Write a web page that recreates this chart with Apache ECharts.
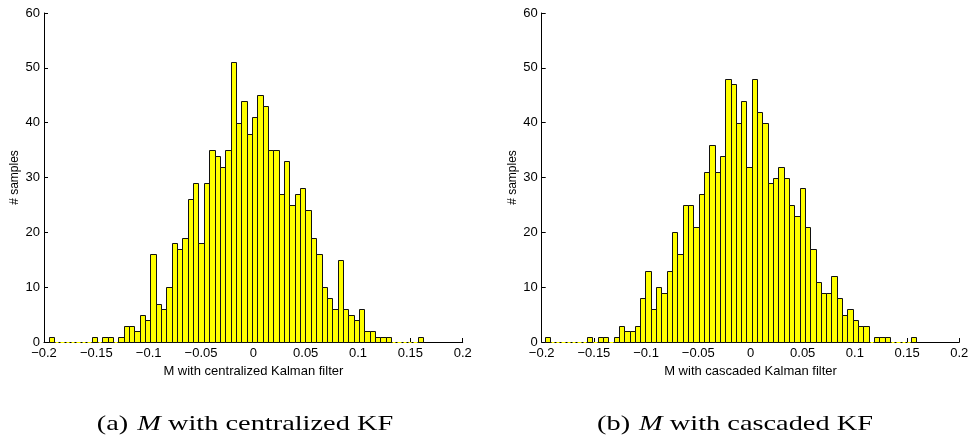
<!DOCTYPE html>
<html>
<head>
<meta charset="utf-8">
<style>
  html, body { margin: 0; padding: 0; background: #fff; }
  #chart { width: 972px; height: 439px; }
</style>
<script src="https://cdn.jsdelivr.net/npm/echarts@6/dist/echarts.min.js"></script>
</head>
<body>
<div id="chart"></div>
<script>
// Histogram counts per bin (70 equal-width bins each)
const centralizedCounts = [1,0,0,0,0,0,0,0, 1,0,1,1,0,1, 3,3,2,5,4, 16,7,6,10, 18,17,19,26,29,
  18,29,35,34,32, 35,51,40,44,38, 41,45,43,35,35, 27,33,25,27,28, 24,19,16,10,8,
  6,15,6,5,4, 6,2,2,1,1,1, 0,0,0,0,0, 1];
const cascadedCounts = [1,0,0,0,0,0,0,0, 1,0,1,1,0,1, 3,2,2,3,8, 13,6,10,9,13,
  20,16,25,25,21, 27,31,36,31,34, 48,47,40,44,32, 48,42,40,29,30, 32,30,25,23,28,
  21,17,11,9,9, 12,8,5,6,4, 3,3,0,1,1, 1,0,0,0,0, 1];

// Bin layout: lower edge of the first bin and bin width
const centralizedBins = { start: -0.1955, width: 0.00511 };
const cascadedBins = { start: -0.1973, width: 0.00509 };

const xTickLabels = ['\u22120.2', '\u22120.15', '\u22120.1', '\u22120.05', '0', '0.05', '0.1', '0.15', '0.2'];
const yTickLabels = ['0', '10', '20', '30', '40', '50', '60'];

const xNames = ['M with centralized Kalman filter', 'M with cascaded Kalman filter'];
const yName = '# samples';
const captions = [
  { tag: '(a)', rest: ' with centralized KF' },
  { tag: '(b)', rest: ' with cascaded KF' }
];

function toBins(counts, bins) {
  return counts.map((c, i) => [bins.start + i * bins.width, bins.start + (i + 1) * bins.width, c]);
}

function renderBar(params, api) {
  const lo = api.value(0), hi = api.value(1), c = api.value(2);
  const pTop = api.coord([lo, c]);
  const pBase = api.coord([hi, 0]);
  const x0 = Math.round(pTop[0]) + 0.5;
  const x1 = Math.round(pBase[0]) + 0.5;
  const yb = Math.round(pBase[1]) + 0.5;
  if (c === 0) {
    return {
      type: 'line',
      shape: { x1: x0 + 1, y1: yb, x2: x1 - 1, y2: yb },
      style: { stroke: '#ffff00', lineWidth: 1 }
    };
  }
  const yt = Math.round(pTop[1]) + 0.5;
  return {
    type: 'rect',
    shape: { x: x0, y: yt, width: x1 - x0, height: yb - yt },
    style: { fill: '#ffff00', stroke: '#111', lineWidth: 1 }
  };
}

const font = 'Liberation Sans, Arial, sans-serif';

function xAxisFor(gridIndex, name) {
  return {
    type: 'value', gridIndex, min: -0.2, max: 0.2, interval: 0.05,
    name, nameLocation: 'middle', nameGap: 20,
    nameTextStyle: { fontFamily: font, fontSize: 13, color: '#000' },
    axisLine: { show: true, onZero: false, lineStyle: { color: '#000', width: 1 } },
    axisTick: { show: true, inside: true, length: 4, lineStyle: { color: '#000' } },
    axisLabel: {
      fontFamily: font, fontSize: 13, color: '#000', margin: 5,
      showMinLabel: true, showMaxLabel: true, hideOverlap: false,
      formatter: (v, i) => xTickLabels[i]
    },
    splitLine: { show: false }
  };
}

function yAxisFor(gridIndex) {
  return {
    type: 'value', gridIndex, min: 0, max: 60, interval: 10,
    name: yName, nameLocation: 'middle', nameGap: 23, nameRotate: 90,
    nameTextStyle: { fontFamily: font, fontSize: 12, color: '#000' },
    axisLine: { show: true, onZero: false, lineStyle: { color: '#000', width: 1 } },
    axisTick: { show: true, inside: true, length: 4, lineStyle: { color: '#000' } },
    axisLabel: {
      fontFamily: font, fontSize: 13, color: '#000', margin: 4,
      showMinLabel: true, showMaxLabel: true, hideOverlap: false,
      formatter: (v, i) => yTickLabels[i]
    },
    splitLine: { show: false }
  };
}

function captionText(cap, cx) {
  return {
    type: 'text', x: cx, y: 424, scaleX: 1.35, scaleY: 1,
    style: {
      text: '{t|' + cap.tag + '}  {m|M}{t|' + cap.rest + '}',
      align: 'center', verticalAlign: 'middle',
      rich: {
        t: { fontFamily: 'Liberation Serif, Times New Roman, serif', fontSize: 21, fill: '#000' },
        m: { fontFamily: 'Liberation Serif, Times New Roman, serif', fontSize: 21, fontStyle: 'italic', fill: '#000' }
      }
    }
  };
}

const chart = echarts.init(document.getElementById('chart'), null, { renderer: 'canvas' });
chart.setOption({
  animation: false,
  backgroundColor: '#fff',
  grid: [
    { left: 44, top: 13, width: 418.7, height: 329 },
    { left: 541.7, top: 13, width: 417.6, height: 329 }
  ],
  xAxis: [xAxisFor(0, xNames[0]), xAxisFor(1, xNames[1])],
  yAxis: [yAxisFor(0), yAxisFor(1)],
  series: [
    {
      type: 'custom', xAxisIndex: 0, yAxisIndex: 0,
      data: toBins(centralizedCounts, centralizedBins),
      encode: { x: [0, 1], y: 2 },
      renderItem: renderBar, clip: false, z: 3
    },
    {
      type: 'custom', xAxisIndex: 1, yAxisIndex: 1,
      data: toBins(cascadedCounts, cascadedBins),
      encode: { x: [0, 1], y: 2 },
      renderItem: renderBar, clip: false, z: 3
    }
  ],
  graphic: [captionText(captions[0], 245), captionText(captions[1], 735)]
});
</script>
</body>
</html>
